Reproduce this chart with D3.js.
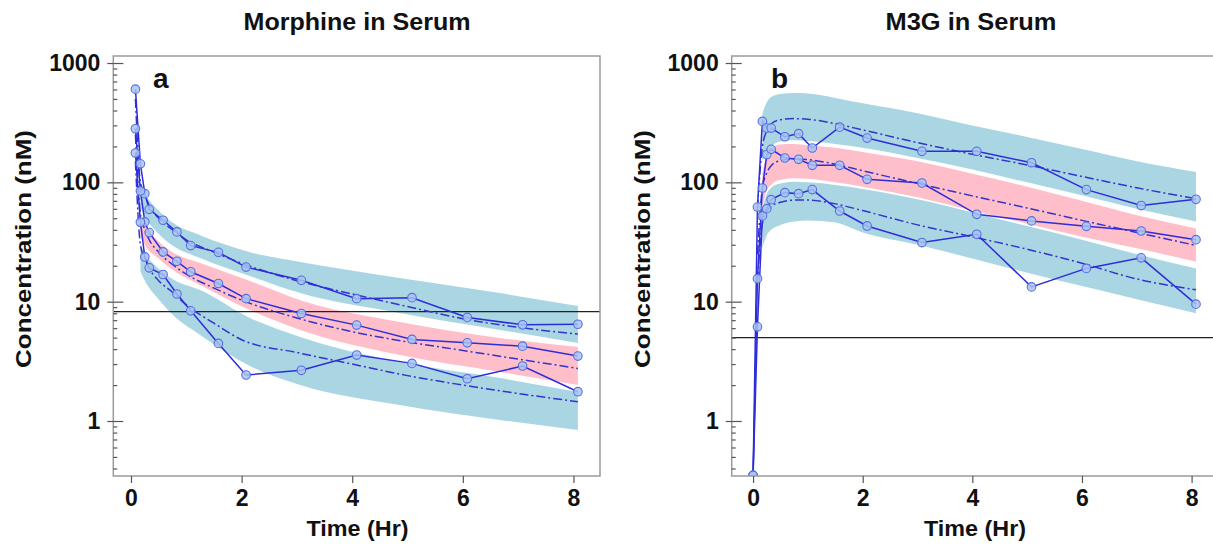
<!DOCTYPE html>
<html>
<head>
<meta charset="utf-8">
<script src="https://cdn.jsdelivr.net/npm/d3@7"></script>
<style>
  html, body { margin: 0; padding: 0; background: #fff; }
  svg { display: block; }
  text { font-family: "Liberation Sans", Arial, Helvetica, sans-serif; font-weight: bold; fill: #111; }
</style>
</head>
<body>
<svg id="chart" width="1213" height="547"></svg>
<script>
// ---------------- DATA ----------------
// Panel a: Morphine in Serum
const obsTimesA = [0.08, 0.17, 0.25, 0.33, 0.58, 0.83, 1.08, 1.58, 2.08, 3.08, 4.08, 5.08, 6.08, 7.08, 8.08];
const obsA_p95 = [604, 143, 80.4, 59.4, 48.1, 38.4, 29.5, 25.9, 19.5, 15.1, 10.6, 10.8, 7.38, 6.40, 6.47];
const obsA_p50 = [281, 84.6, 46.6, 37.9, 26.1, 21.8, 17.8, 14.2, 10.6, 7.96, 6.36, 4.83, 4.52, 4.24, 3.50];
const obsA_p05 = [176, 46.3, 23.7, 19.2, 16.9, 11.6, 8.38, 4.47, 2.43, 2.66, 3.57, 3.04, 2.26, 2.89, 1.76];

const predTimesA = [0.08, 0.17, 0.25, 0.33, 0.5, 0.75, 1, 1.5, 2, 3, 4, 5, 6, 7, 8.08];
const predA_p95 = [500, 100, 78, 64, 50, 40, 33, 26, 21, 15, 11.6, 9.1, 7.2, 6.1, 5.35];
const predA_p50 = [250, 55, 40, 33, 26, 20.5, 17, 13, 10.3, 7.3, 5.6, 4.6, 3.9, 3.3, 2.76];
const predA_p05 = [150, 30, 23, 19, 15, 12, 9.4, 6.6, 4.8, 3.75, 3.0, 2.4, 2.0, 1.7, 1.45];

const bandTimesA = [0.17, 0.25, 0.5, 0.75, 1.25, 2.15, 3.06, 4.86, 6.67, 8.08];
const bandA_hiUpper = [100, 82, 58, 46, 36, 26, 21.5, 15.8, 11.8, 9.2];
const bandA_hiLower = [62, 52, 37, 29.5, 23.2, 16.4, 11.8, 8.04, 5.79, 4.51];
const bandA_midUpper = [50, 44, 32, 26, 21.1, 14.9, 10.3, 6.76, 4.97, 4.17];
const bandA_midLower = [36, 30, 23, 18.5, 13.8, 8.51, 5.79, 3.57, 2.58, 2.0];
const bandA_loUpper = [30, 25.5, 19, 15.5, 12.5, 7.3, 5.06, 3.12, 2.29, 1.75];
const bandA_loLower = [18, 15, 10.5, 7.8, 5.26, 2.89, 2.0, 1.36, 1.02, 0.84];
const lloqA = 8.25;

// Panel b: M3G in Serum
const obsTimesB = [0, 0.08, 0.17, 0.25, 0.33, 0.58, 0.83, 1.08, 1.58, 2.08, 3.08, 4.08, 5.08, 6.08, 7.08, 8.08];
const obsB_p95 = [0.35, 62, 324, 285, 285, 241, 256, 194, 290, 235, 182, 182, 146, 86.9, 63.9, 72.1];
const obsB_p50 = [0.35, 15.6, 89.6, 171, 189, 160, 156, 139, 139, 106, 98.7, 54, 47.5, 42.8, 39.1, 33.1];
const obsB_p05 = [0.35, 6.15, 52.3, 60.2, 71.6, 82, 80.4, 86.9, 57.5, 43.1, 31.3, 36.7, 13.3, 19.0, 23.3, 9.53];

const predTimesB = [0.08, 0.17, 0.25, 0.33, 0.5, 0.75, 1, 1.5, 2, 3, 4, 5, 6, 7, 8.08];
const predB_p95 = [60, 200, 270, 310, 335, 342, 338, 310, 275, 215, 172, 140, 112, 90, 73];
const predB_p50 = [25, 90, 120, 138, 152, 157, 155, 142, 125, 98, 77, 61, 48, 38, 29.6];
const predB_p05 = [15, 45, 57, 63, 68, 71, 71, 66, 58, 44, 35, 27.5, 21, 15.5, 12.6];

const bandTimesB = [0.17, 0.25, 0.33, 0.5, 0.75, 1, 1.5, 2, 3, 4, 5, 6, 7, 8.08];
const bandB_hiUpper = [380, 470, 520, 550, 560, 555, 510, 460, 380, 300, 240, 190, 150, 122];
const bandB_hiLower = [150, 180, 200, 220, 225, 222, 210, 195, 160, 128, 100, 78, 60, 47];
const bandB_midUpper = [120, 170, 195, 208, 210, 205, 195, 180, 150, 118, 92, 70, 53, 41];
const bandB_midLower = [60, 85, 95, 105, 108, 107, 100, 92, 75, 58, 45, 35, 28, 21.6];
const bandB_loUpper = [60, 80, 90, 98, 101, 100, 95, 88, 72, 56, 43, 33, 25, 19];
const bandB_loLower = [28, 36, 40, 44, 47, 48, 46, 38, 30, 23, 17.5, 13.5, 10.5, 8];
const lloqB = 5;

const xTicks = [0, 2, 4, 6, 8];
const yMajorTicks = [1, 10, 100, 1000];
const titles = ["Morphine in Serum", "M3G in Serum"];
const panelLetters = ["a", "b"];
const xLabel = "Time (Hr)";
const yLabel = "Concentration (nM)";

// ---------------- DRAW ----------------
const svg = d3.select("#chart");
svg.append("rect").attr("width", 1213).attr("height", 547).attr("fill", "#fff");

const COL_BLUE_BAND = "#a9d6e2";
const COL_PINK_BAND = "#ffbfca";
const COL_LINE = "#2d2ddb";
const COL_PRED = "#3434cc";
const FONT = '"Liberation Sans", Arial, sans-serif';

const panels = [
  {
    left: 113.3, right: 600, xDomain: [-0.32, 8.48],
    title: titles[0], titleX: 357, titleW: 227, letter: panelLetters[0], letterX: 153,
    yLabelX: 31, xLabelX: 357.5,
    obsT: obsTimesA, obs: [obsA_p95, obsA_p50, obsA_p05],
    predT: predTimesA, pred: [predA_p95, predA_p50, predA_p05],
    bandT: bandTimesA,
    bands: [
      [bandA_hiLower, bandA_hiUpper, COL_BLUE_BAND],
      [bandA_midLower, bandA_midUpper, COL_PINK_BAND],
      [bandA_loLower, bandA_loUpper, COL_BLUE_BAND]
    ],
    lloq: lloqA
  },
  {
    left: 731.7, right: 1219, xDomain: [-0.39, 8.5],
    title: titles[1], titleX: 971, titleW: 171, letter: panelLetters[1], letterX: 771,
    yLabelX: 650, xLabelX: 975,
    obsT: obsTimesB, obs: [obsB_p95, obsB_p50, obsB_p05],
    predT: predTimesB, pred: [predB_p95, predB_p50, predB_p05],
    bandT: bandTimesB,
    bands: [
      [bandB_hiLower, bandB_hiUpper, COL_BLUE_BAND],
      [bandB_midLower, bandB_midUpper, COL_PINK_BAND],
      [bandB_loLower, bandB_loUpper, COL_BLUE_BAND]
    ],
    lloq: lloqB
  }
];

const TOP = 56, BOTTOM = 476;
const y = d3.scaleLog().domain([0.346, 1145]).range([BOTTOM, TOP]);

const minorTicks = [];
[0.1, 1, 10, 100].forEach(d => { for (let k = 2; k <= 9; k++) { const v = d * k; if (v >= 0.346 && v <= 1145) minorTicks.push(v); } });

panels.forEach((p, i) => {
  const x = d3.scaleLinear().domain(p.xDomain).range([p.left, p.right]);
  const g = svg.append("g");
  const clipId = "clip" + i;
  svg.append("defs").append("clipPath").attr("id", clipId)
    .append("rect").attr("x", p.left).attr("y", TOP).attr("width", p.right - p.left).attr("height", BOTTOM - TOP);
  const plot = g.append("g").attr("clip-path", `url(#${clipId})`);

  // bands
  p.bands.forEach(([lo, hi, col]) => {
    const area = d3.area()
      .x((d, j) => x(p.bandT[j]))
      .y0((d, j) => y(lo[j]))
      .y1((d, j) => y(hi[j]))
      .curve(d3.curveMonotoneX);
    plot.append("path").datum(lo).attr("d", area).attr("fill", col).attr("stroke", "none");
  });

  // LLOQ line
  plot.append("line")
    .attr("x1", p.left).attr("x2", p.right)
    .attr("y1", y(p.lloq)).attr("y2", y(p.lloq))
    .attr("stroke", "#222").attr("stroke-width", 1.2);

  // predicted percentiles
  p.pred.forEach(vals => {
    const line = d3.line().x((d, j) => x(p.predT[j])).y(d => y(d)).curve(d3.curveMonotoneX);
    plot.append("path").datum(vals).attr("d", line)
      .attr("fill", "none").attr("stroke", COL_PRED).attr("stroke-width", 1.5)
      .attr("stroke-dasharray", "9,3,2,3");
  });

  // observed percentiles
  p.obs.forEach(vals => {
    const line = d3.line().x((d, j) => x(p.obsT[j])).y(d => y(d));
    plot.append("path").datum(vals).attr("d", line)
      .attr("fill", "none").attr("stroke", COL_LINE).attr("stroke-width", 1.5);
  });
  p.obs.forEach(vals => {
    plot.selectAll(null).data(vals).enter().append("circle")
      .attr("cx", (d, j) => x(p.obsT[j])).attr("cy", d => y(d)).attr("r", 4.3)
      .attr("fill", "#a9c3f2").attr("fill-opacity", 0.85)
      .attr("stroke", "#5570e0").attr("stroke-width", 1.1);
  });

  // frame
  g.append("rect").attr("x", p.left).attr("y", TOP).attr("width", p.right - p.left).attr("height", BOTTOM - TOP)
    .attr("fill", "none").attr("stroke", "#9a9a9a").attr("stroke-width", 1.5);

  // y axis: outward major ticks with labels
  const yAxOut = g.append("g").attr("transform", `translate(${p.left},0)`)
    .call(d3.axisLeft(y).tickValues(yMajorTicks).tickSize(6).tickPadding(7).tickFormat(d3.format("d")));
  const yAxIn = g.append("g").attr("transform", `translate(${p.left},0)`)
    .call(d3.axisRight(y).tickValues(yMajorTicks).tickSize(10).tickFormat(""));
  const yAxMinor = g.append("g").attr("transform", `translate(${p.left},0)`)
    .call(d3.axisRight(y).tickValues(minorTicks).tickSize(4).tickFormat(""));
  [yAxOut, yAxIn, yAxMinor].forEach(a => {
    a.select(".domain").remove();
    a.selectAll("line").attr("stroke", "#555").attr("stroke-width", 1.2);
  });
  yAxOut.selectAll("text").attr("font-size", 23).attr("fill", "#111")
    .style("font-family", FONT).style("font-weight", "bold");

  // x axis
  const xAx = g.append("g").attr("transform", `translate(0,${BOTTOM})`)
    .call(d3.axisBottom(x).tickValues(xTicks).tickSize(7).tickPadding(7).tickFormat(d3.format("d")));
  xAx.select(".domain").remove();
  xAx.selectAll("line").attr("stroke", "#555").attr("stroke-width", 1.2);
  xAx.selectAll("text").attr("font-size", 23).attr("fill", "#111")
    .style("font-family", FONT).style("font-weight", "bold");

  // titles and labels
  svg.append("text").attr("x", p.titleX).attr("y", 30).attr("text-anchor", "middle")
    .attr("font-size", 23).attr("textLength", p.titleW).attr("lengthAdjust", "spacingAndGlyphs").text(p.title);
  svg.append("text").attr("x", p.xLabelX).attr("y", 536).attr("text-anchor", "middle")
    .attr("font-size", 22).attr("textLength", 102).attr("lengthAdjust", "spacingAndGlyphs").text(xLabel);
  svg.append("text").attr("transform", `translate(${p.yLabelX},249) rotate(-90)`).attr("text-anchor", "middle")
    .attr("font-size", 22).attr("textLength", 238).attr("lengthAdjust", "spacingAndGlyphs").text(yLabel);
  svg.append("text").attr("x", p.letterX).attr("y", 88).attr("font-size", 28).text(p.letter);
});
</script>
</body>
</html>
